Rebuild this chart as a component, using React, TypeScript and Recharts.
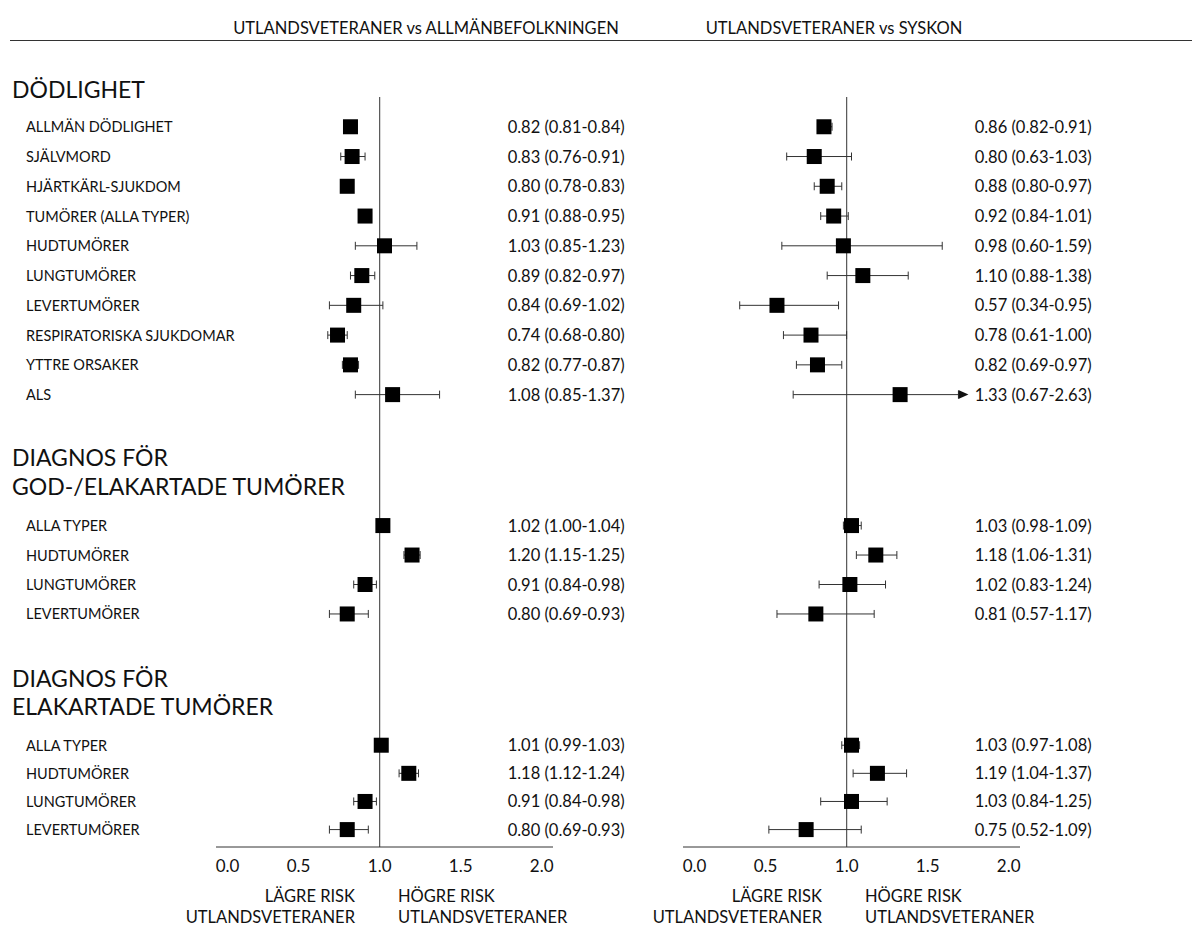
import React from 'react';
import { ScatterChart, Scatter, XAxis, YAxis, ReferenceLine, ErrorBar } from 'recharts';

const FONT = 'Lato, "Noto Sans", sans-serif';

const panelTitles = ['UTLANDSVETERANER vs ALLMÄNBEFOLKNINGEN', 'UTLANDSVETERANER vs SYSKON'];
const sectionTitles = [['DÖDLIGHET'], ['DIAGNOS FÖR', 'GOD-/ELAKARTADE TUMÖRER'], ['DIAGNOS FÖR', 'ELAKARTADE TUMÖRER']];

const mortalityLabels = [
  'ALLMÄN DÖDLIGHET',
  'SJÄLVMORD',
  'HJÄRTKÄRL-SJUKDOM',
  'TUMÖRER (ALLA TYPER)',
  'HUDTUMÖRER',
  'LUNGTUMÖRER',
  'LEVERTUMÖRER',
  'RESPIRATORISKA SJUKDOMAR',
  'YTTRE ORSAKER',
  'ALS',
];
const tumourLabels = ['ALLA TYPER', 'HUDTUMÖRER', 'LUNGTUMÖRER', 'LEVERTUMÖRER'];

// [estimate, lower, upper]
const popMortality = [
  [0.82, 0.81, 0.84],
  [0.83, 0.76, 0.91],
  [0.8, 0.78, 0.83],
  [0.91, 0.88, 0.95],
  [1.03, 0.85, 1.23],
  [0.89, 0.82, 0.97],
  [0.84, 0.69, 1.02],
  [0.74, 0.68, 0.8],
  [0.82, 0.77, 0.87],
  [1.08, 0.85, 1.37],
];
const popAnyTumour = [
  [1.02, 1.0, 1.04],
  [1.2, 1.15, 1.25],
  [0.91, 0.84, 0.98],
  [0.8, 0.69, 0.93],
];
const popMalignant = [
  [1.01, 0.99, 1.03],
  [1.18, 1.12, 1.24],
  [0.91, 0.84, 0.98],
  [0.8, 0.69, 0.93],
];
const sibMortality = [
  [0.86, 0.82, 0.91],
  [0.8, 0.63, 1.03],
  [0.88, 0.8, 0.97],
  [0.92, 0.84, 1.01],
  [0.98, 0.6, 1.59],
  [1.1, 0.88, 1.38],
  [0.57, 0.34, 0.95],
  [0.78, 0.61, 1.0],
  [0.82, 0.69, 0.97],
  [1.33, 0.67, 2.63],
];
const sibAnyTumour = [
  [1.03, 0.98, 1.09],
  [1.18, 1.06, 1.31],
  [1.02, 0.83, 1.24],
  [0.81, 0.57, 1.17],
];
const sibMalignant = [
  [1.03, 0.97, 1.08],
  [1.19, 1.04, 1.37],
  [1.03, 0.84, 1.25],
  [0.75, 0.52, 1.09],
];

const xTicks = [0, 0.5, 1, 1.5, 2];
const bottomLeft = ['LÄGRE RISK', 'UTLANDSVETERANER'];
const bottomRight = ['HÖGRE RISK', 'UTLANDSVETERANER'];

// layout
const X_DOMAIN: [number, number] = [-0.01, 2.07];
const Y_DOMAIN: [number, number] = [0, 25.2];
const TEXT_X = 1.79;
const ARROW_CLIP = 1.69;
const GROUP_ROW0 = [1, 14.4, 21.78];
const GROUP_STEP = [1, 0.99, 0.945];
const groupLabels = [mortalityLabels, tumourLabels, tumourLabels];

type Row = { x: number; y: number; err: [number, number]; label: string; text: string; clipped: boolean };

const fmt = (v: number) => v.toFixed(2);

function buildRows(groups: number[][][]): Row[] {
  const rows: Row[] = [];
  groups.forEach((g, gi) => {
    g.forEach(([est, lo, hi], i) => {
      const clipped = hi > ARROW_CLIP;
      const top = clipped ? ARROW_CLIP : hi;
      rows.push({
        x: est,
        y: GROUP_ROW0[gi] + i * GROUP_STEP[gi],
        err: [est - lo, top - est],
        label: groupLabels[gi][i],
        text: `${fmt(est)} (${fmt(lo)}-${fmt(hi)})`,
        clipped,
      });
    });
  });
  return rows;
}

const popRows = buildRows([popMortality, popAnyTumour, popMalignant]);
const sibRows = buildRows([sibMortality, sibAnyTumour, sibMalignant]);

const Box = (p: any) => <rect x={p.cx - 7.5} y={p.cy - 7.5} width={15} height={15} fill="#000" />;

const ValueText = (p: any) => (
  <text x={p.cx} y={p.cy} dominantBaseline="central" fontSize={16.5} fontFamily={FONT} fill="#111">
    {p.payload.text}
  </text>
);

const Arrow = (p: any) => <polygon points={`${p.cx},${p.cy - 4.5} ${p.cx + 10},${p.cy} ${p.cx},${p.cy + 4.5}`} fill="#111" />;

function XTick(p: any) {
  const dx = p.payload.value === 0 ? 10 : 0;
  return (
    <text x={p.x + dx} y={p.y} dy={17} textAnchor="middle" fontSize={17} fontFamily={FONT} fill="#111">
      {p.payload.value.toFixed(1)}
    </text>
  );
}

function Panel({ rows, width, marginLeft, marginRight, showLabels }: { rows: Row[]; width: number; marginLeft: number; marginRight: number; showLabels: boolean }) {
  const LabelTick = (p: any) => {
    const row = rows.find((r) => Math.abs(r.y - p.payload.value) < 1e-6);
    return (
      <text x={26} y={p.y} dominantBaseline="central" fontSize={14.5} fontFamily={FONT} fill="#111">
        {row ? row.label : ''}
      </text>
    );
  };
  return (
    <ScatterChart width={width} height={927} margin={{ top: 97, right: marginRight, bottom: 50, left: marginLeft }}>
      <XAxis
        type="number"
        dataKey="x"
        domain={X_DOMAIN}
        ticks={xTicks}
        tick={<XTick />}
        tickLine={false}
        axisLine={{ stroke: '#333' }}
        height={30}
      />
      <YAxis
        type="number"
        dataKey="y"
        domain={Y_DOMAIN}
        reversed
        ticks={rows.map((r) => r.y)}
        interval={0}
        hide={!showLabels}
        width={216}
        axisLine={false}
        tickLine={false}
        tick={<LabelTick />}
      />
      <ReferenceLine x={1} stroke="#555" strokeWidth={1.2} />
      <Scatter data={rows.map((r) => ({ ...r, x: TEXT_X }))} shape={ValueText} isAnimationActive={false} />
      <Scatter data={rows.filter((r) => r.clipped).map((r) => ({ ...r, x: ARROW_CLIP }))} shape={Arrow} isAnimationActive={false} />
      <Scatter data={rows} shape={Box} isAnimationActive={false}>
        <ErrorBar dataKey="err" direction="x" width={4} stroke="#333" strokeWidth={1} />
      </Scatter>
    </ScatterChart>
  );
}

const abs = (style: React.CSSProperties): React.CSSProperties => ({ position: 'absolute', whiteSpace: 'nowrap', ...style });

export default function App() {
  const refX = [380, 847];
  return (
    <div style={{ position: 'absolute', left: 0, top: 0, width: 1192, height: 927, background: '#fff', fontFamily: FONT, color: '#111', overflow: 'hidden' }}>
      <div style={abs({ left: 0, top: 0 })}>
        <Panel rows={popRows} width={640} marginLeft={0} marginRight={87} showLabels />
      </div>
      <div style={abs({ left: 640, top: 0 })}>
        <Panel rows={sibRows} width={552} marginLeft={43} marginRight={172} showLabels={false} />
      </div>

      <div style={abs({ left: 426, top: 18, fontSize: 16.5, transform: 'translateX(-50%)' })}>{panelTitles[0]}</div>
      <div style={abs({ left: 834, top: 18, fontSize: 16.5, transform: 'translateX(-50%)' })}>{panelTitles[1]}</div>
      <div style={abs({ left: 10, top: 40, width: 1182, height: 0, borderTop: '1.5px solid #333' })} />

      <div style={abs({ left: 12, top: 75, fontSize: 23, lineHeight: '28px' })}>{sectionTitles[0][0]}</div>
      <div style={abs({ left: 12, top: 443, fontSize: 23, lineHeight: '29px' })}>
        {sectionTitles[1].map((t) => (
          <div key={t}>{t}</div>
        ))}
      </div>
      <div style={abs({ left: 12, top: 664, fontSize: 23, lineHeight: '28px' })}>
        {sectionTitles[2].map((t) => (
          <div key={t}>{t}</div>
        ))}
      </div>

      {refX.map((x) => (
        <React.Fragment key={x}>
          <div style={abs({ right: 1192 - (x - 25), top: 886, fontSize: 16.5, lineHeight: '21px', textAlign: 'right' })}>
            {bottomLeft.map((t) => (
              <div key={t}>{t}</div>
            ))}
          </div>
          <div style={abs({ left: x + 18, top: 886, fontSize: 16.5, lineHeight: '21px' })}>
            {bottomRight.map((t) => (
              <div key={t}>{t}</div>
            ))}
          </div>
        </React.Fragment>
      ))}
    </div>
  );
}
